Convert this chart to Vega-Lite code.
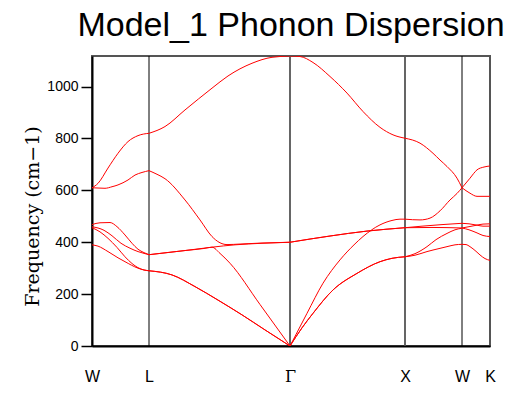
{
  "$schema": "https://vega.github.io/schema/vega-lite/v6.json",
  "width": 398,
  "height": 290,
  "autosize": {"type": "none"},
  "padding": {"left": 92, "top": 56, "right": 38, "bottom": 50},
  "background": "white",
  "config": {"view": {"stroke": "#555", "strokeWidth": 2}},
  "title": {
    "text": "Model_1 Phonon Dispersion",
    "font": "Liberation Sans",
    "fontSize": 34,
    "fontWeight": "normal",
    "color": "black",
    "anchor": "middle",
    "baseline": "alphabetic",
    "offset": 18,
    "dy": 33
  },
  "datasets": {
    "bands": [
      {"s":"1A","x":0,"y":390},{"s":"1A","x":6,"y":385},{"s":"1A","x":16,"y":364},{"s":"1A","x":26,"y":340},{"s":"1A","x":33,"y":325},{"s":"1A","x":46,"y":300},{"s":"1A","x":52,"y":293},{"s":"1A","x":57,"y":290},
      {"s":"1B","x":0,"y":456},{"s":"1B","x":8,"y":440},{"s":"1B","x":16,"y":415},{"s":"1B","x":25,"y":380},{"s":"1B","x":33,"y":344},{"s":"1B","x":40,"y":318},{"s":"1B","x":46,"y":302},{"s":"1B","x":52,"y":293},{"s":"1B","x":57,"y":290},
      {"s":"1C","x":0,"y":460},{"s":"1C","x":12,"y":446},{"s":"1C","x":20,"y":425},{"s":"1C","x":29,"y":396},{"s":"1C","x":38,"y":377},{"s":"1C","x":46,"y":364},{"s":"1C","x":52,"y":357},{"s":"1C","x":57,"y":352},
      {"s":"1D","x":0,"y":468},{"s":"1D","x":8,"y":475},{"s":"1D","x":18,"y":476},{"s":"1D","x":25,"y":460},{"s":"1D","x":33,"y":428},{"s":"1D","x":40,"y":396},{"s":"1D","x":46,"y":373},{"s":"1D","x":52,"y":360},{"s":"1D","x":57,"y":352},
      {"s":"1E","x":0,"y":610},{"s":"1E","x":6,"y":609},{"s":"1E","x":13,"y":608},{"s":"1E","x":20,"y":614},{"s":"1E","x":26,"y":621},{"s":"1E","x":36,"y":640},{"s":"1E","x":43,"y":659},{"s":"1E","x":50,"y":669},{"s":"1E","x":57,"y":676},
      {"s":"1F","x":0,"y":610},{"s":"1F","x":6,"y":627},{"s":"1F","x":16,"y":686},{"s":"1F","x":26,"y":743},{"s":"1F","x":36,"y":788},{"s":"1F","x":46,"y":811},{"s":"1F","x":57,"y":820},
      {"s":"2A","x":57,"y":290},{"s":"2A","x":80,"y":274},{"s":"2A","x":103,"y":229},{"s":"2A","x":126,"y":177},{"s":"2A","x":150,"y":120},{"s":"2A","x":173,"y":62},{"s":"2A","x":198,"y":0},
      {"s":"2B","x":57,"y":290},{"s":"2B","x":80,"y":274},{"s":"2B","x":103,"y":229},{"s":"2B","x":126,"y":177},{"s":"2B","x":150,"y":120},{"s":"2B","x":173,"y":62},{"s":"2B","x":198,"y":0},
      {"s":"2C","x":57,"y":352},{"s":"2C","x":75,"y":360},{"s":"2C","x":93,"y":368},{"s":"2C","x":120,"y":381},{"s":"2C","x":143,"y":390},{"s":"2C","x":170,"y":396},{"s":"2C","x":198,"y":400},
      {"s":"2D","x":57,"y":352},{"s":"2D","x":75,"y":360},{"s":"2D","x":93,"y":368},{"s":"2D","x":112,"y":376},{"s":"2D","x":120,"y":381},{"s":"2D","x":128,"y":357},{"s":"2D","x":138,"y":319},{"s":"2D","x":168,"y":160},{"s":"2D","x":198,"y":0},
      {"s":"2E","x":57,"y":676},{"s":"2E","x":65,"y":662},{"s":"2E","x":73,"y":645},{"s":"2E","x":93,"y":563},{"s":"2E","x":108,"y":486},{"s":"2E","x":120,"y":422},{"s":"2E","x":127,"y":400},{"s":"2E","x":135,"y":391},{"s":"2E","x":148,"y":393},{"s":"2E","x":170,"y":397},{"s":"2E","x":198,"y":400},
      {"s":"2F","x":57,"y":820},{"s":"2F","x":73,"y":846},{"s":"2F","x":93,"y":910},{"s":"2F","x":120,"y":994},{"s":"2F","x":136,"y":1041},{"s":"2F","x":160,"y":1090},{"s":"2F","x":180,"y":1113},{"s":"2F","x":198,"y":1118},
      {"s":"3A","x":198,"y":0},{"s":"3A","x":210,"y":70},{"s":"3A","x":221,"y":126},{"s":"3A","x":241,"y":216},{"s":"3A","x":265,"y":280},{"s":"3A","x":288,"y":325},{"s":"3A","x":300,"y":338},{"s":"3A","x":313,"y":344},
      {"s":"3B","x":198,"y":0},{"s":"3B","x":210,"y":70},{"s":"3B","x":221,"y":126},{"s":"3B","x":241,"y":216},{"s":"3B","x":265,"y":280},{"s":"3B","x":288,"y":325},{"s":"3B","x":300,"y":338},{"s":"3B","x":313,"y":344},
      {"s":"3C","x":198,"y":400},{"s":"3C","x":238,"y":424},{"s":"3C","x":275,"y":443},{"s":"3C","x":313,"y":456},
      {"s":"3D","x":198,"y":400},{"s":"3D","x":238,"y":424},{"s":"3D","x":275,"y":443},{"s":"3D","x":313,"y":456},
      {"s":"3E","x":198,"y":0},{"s":"3E","x":215,"y":126},{"s":"3E","x":231,"y":242},{"s":"3E","x":248,"y":332},{"s":"3E","x":262,"y":390},{"s":"3E","x":271,"y":422},{"s":"3E","x":288,"y":467},{"s":"3E","x":300,"y":484},{"s":"3E","x":308,"y":489},{"s":"3E","x":313,"y":489},
      {"s":"3F","x":198,"y":1118},{"s":"3F","x":208,"y":1116},{"s":"3F","x":221,"y":1093},{"s":"3F","x":238,"y":1039},{"s":"3F","x":255,"y":975},{"s":"3F","x":271,"y":904},{"s":"3F","x":288,"y":843},{"s":"3F","x":301,"y":814},{"s":"3F","x":313,"y":801},
      {"s":"4A","x":313,"y":344},{"s":"4A","x":323,"y":350},{"s":"4A","x":335,"y":364},{"s":"4A","x":341,"y":370},{"s":"4A","x":355,"y":383},{"s":"4A","x":363,"y":390},{"s":"4A","x":370,"y":392},
      {"s":"4B","x":313,"y":344},{"s":"4B","x":323,"y":356},{"s":"4B","x":335,"y":383},{"s":"4B","x":344,"y":410},{"s":"4B","x":355,"y":434},{"s":"4B","x":363,"y":448},{"s":"4B","x":370,"y":454},
      {"s":"4C","x":313,"y":456},{"s":"4C","x":330,"y":462},{"s":"4C","x":350,"y":468},{"s":"4C","x":370,"y":473},
      {"s":"4D","x":313,"y":456},{"s":"4D","x":340,"y":457},{"s":"4D","x":370,"y":455},
      {"s":"4E","x":313,"y":489},{"s":"4E","x":328,"y":486},{"s":"4E","x":338,"y":493},{"s":"4E","x":348,"y":521},{"s":"4E","x":358,"y":563},{"s":"4E","x":365,"y":588},{"s":"4E","x":370,"y":610},
      {"s":"4F","x":313,"y":801},{"s":"4F","x":328,"y":782},{"s":"4F","x":341,"y":743},{"s":"4F","x":348,"y":717},{"s":"4F","x":355,"y":692},{"s":"4F","x":365,"y":647},{"s":"4F","x":370,"y":610},
      {"s":"5A","x":370,"y":392},{"s":"5A","x":374,"y":391},{"s":"5A","x":378,"y":383},{"s":"5A","x":384,"y":365},{"s":"5A","x":388,"y":351},{"s":"5A","x":393,"y":337},{"s":"5A","x":398,"y":330},
      {"s":"5B","x":370,"y":455},{"s":"5B","x":377,"y":448},{"s":"5B","x":385,"y":436},{"s":"5B","x":391,"y":426},{"s":"5B","x":398,"y":422},
      {"s":"5C","x":370,"y":455},{"s":"5C","x":377,"y":460},{"s":"5C","x":385,"y":466},{"s":"5C","x":391,"y":470},{"s":"5C","x":398,"y":471},
      {"s":"5D","x":370,"y":473},{"s":"5D","x":377,"y":471},{"s":"5D","x":385,"y":466},{"s":"5D","x":391,"y":462},{"s":"5D","x":398,"y":462},
      {"s":"5E","x":370,"y":610},{"s":"5E","x":378,"y":647},{"s":"5E","x":385,"y":679},{"s":"5E","x":392,"y":690},{"s":"5E","x":398,"y":694},
      {"s":"5F","x":370,"y":610},{"s":"5F","x":378,"y":589},{"s":"5F","x":385,"y":577},{"s":"5F","x":392,"y":577},{"s":"5F","x":398,"y":577}
    ]
  },
  "layer": [
    {
      "data": {"values": [{"x": 57}, {"x": 370}]},
      "mark": {"type": "rule", "color": "black", "strokeWidth": 1},
      "encoding": {"x": {"field": "x", "type": "quantitative", "scale": {"domain": [0, 398], "nice": false}}}
    },
    {
      "data": {"values": [{"x": 198}, {"x": 313}]},
      "mark": {"type": "rule", "color": "#555", "strokeWidth": 1.8},
      "encoding": {"x": {"field": "x", "type": "quantitative"}}
    },
    {
      "data": {"name": "bands"},
      "mark": {"type": "line", "color": "#ff0000", "strokeWidth": 1, "interpolate": "monotone", "clip": true},
      "encoding": {
        "x": {
          "field": "x", "type": "quantitative",
          "scale": {"domain": [0, 398], "nice": false},
          "axis": {
            "values": [0, 57, 198, 313, 370, 398],
            "labelExpr": "datum.value == 0 ? 'W' : datum.value == 57 ? 'L' : datum.value == 198 ? 'Γ' : datum.value == 313 ? 'X' : datum.value == 370 ? 'W' : 'K'",
            "title": null,
            "grid": false,
            "ticks": false,
            "labelPadding": 22,
            "labelFontSize": 16,
            "labelFont": {"condition": {"test": "datum.value == 198", "value": "DejaVu Serif"}, "value": "Liberation Sans"},
            "labelColor": "black",
            "labelFlush": false,
            "labelOverlap": false,
            "domainColor": "black",
            "domainWidth": 2
          }
        },
        "y": {
          "field": "y", "type": "quantitative",
          "scale": {"domain": [0, 1118], "nice": false},
          "axis": {
            "values": [0, 200, 400, 600, 800, 1000],
            "format": "d",
            "title": "Frequency (cm\u22121)",
            "titleFont": "DejaVu Serif",
            "titleFontSize": 19,
            "titleFontWeight": "normal",
            "titleColor": "black",
            "titleAngle": -90,
            "titleAlign": "center",
            "titleBaseline": "alphabetic",
            "titleX": -54,
            "titleY": 160,
            "grid": false,
            "tickSize": 11,
            "tickColor": "black",
            "tickWidth": 1.5,
            "labelPadding": 3,
            "labelFontSize": 14,
            "labelFont": "Liberation Sans",
            "labelColor": "black",
            "labelFlush": false,
            "domainColor": "black",
            "domainWidth": 2
          }
        },
        "detail": {"field": "s", "type": "nominal"}
      }
    }
  ]
}
